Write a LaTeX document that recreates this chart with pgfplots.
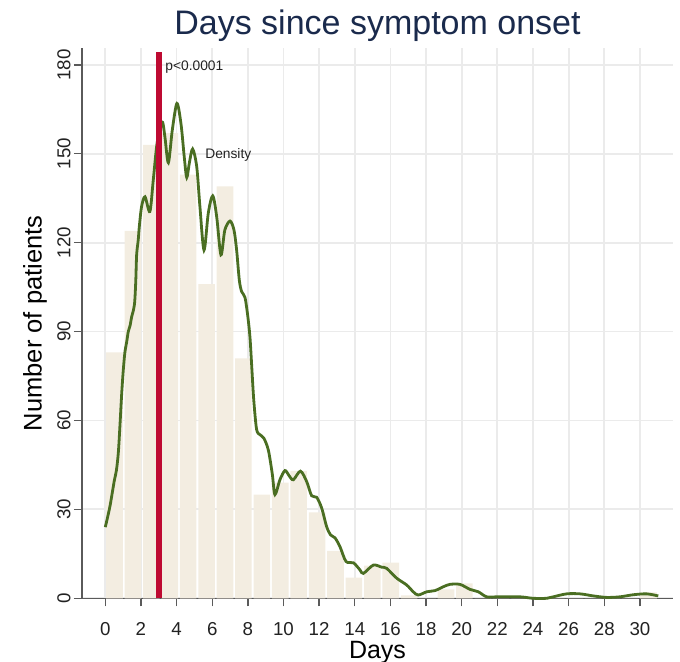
\documentclass[border=0pt]{standalone}
\usepackage{pgfplots}
\pgfplotsset{compat=1.18}
\usepackage{fontspec}
\setmainfont{Liberation Sans}
\definecolor{barbeige}{HTML}{F3EDE1}
\definecolor{densgreen}{HTML}{4A6E22}
\definecolor{redline}{HTML}{BE0A32}
\definecolor{titlenavy}{HTML}{1A2A4C}
\definecolor{axisgray}{HTML}{5A5A5A}
\definecolor{gridgray}{HTML}{EBEBEB}
\definecolor{txt}{HTML}{222222}
\begin{document}
\begin{tikzpicture}
\useasboundingbox (0,0) rectangle (680bp,662bp);
\begin{axis}[
  at={(82bp,63.7bp)}, anchor=south west,
  scale only axis, width=591bp, height=550bp,
  xmin=-1.307, xmax=31.857, ymin=0, ymax=185.6,
  axis lines=left,
  axis line style={-, draw=axisgray, line width=1.5bp},
  xtick={0,2,...,30}, ytick={0,30,...,180},
  tick align=outside, major tick length=8bp,
  tick style={draw=axisgray, line width=1.3bp},
  grid=major, grid style={draw=gridgray, line width=1.8bp},
  /pgf/number format/assume math mode=true,
  ticklabel style={font=\fontsize{18.7bp}{22bp}\selectfont, text=txt},
  xticklabel style={anchor=base, inner sep=0pt, yshift=-29.7bp},
  yticklabel style={rotate=90, anchor=base, inner sep=0pt, yshift=3.5bp},
  title={Days since symptom onset},
  title style={at={(axis description cs:0.5,1.0148)}, anchor=base, inner sep=0pt,
    font=\fontsize{34bp}{40bp}\selectfont, text=titlenavy},
  xlabel={Days},
  xlabel style={at={(axis description cs:0.5,-0.109)}, anchor=base, inner sep=0pt,
    font=\fontsize{25bp}{30bp}\selectfont, text=black},
  ylabel={Number of patients},
  ylabel style={at={(axis description cs:-0.0685,0.5)}, anchor=base, inner sep=0pt,
    font=\fontsize{25.5bp}{30bp}\selectfont, text=black},
  clip=false,
]
% histogram (bin width 31/30)
\addplot[ybar, bar width=0.93, fill=barbeige, draw=none] coordinates {
(0.5167,83) (1.55,124) (2.5833,153) (3.6167,157) (4.65,143) (5.6833,106)
(6.7167,139) (7.75,81) (8.7833,35) (9.8167,39) (10.85,43) (11.8833,29)
(12.9167,16) (13.95,7) (14.9833,11) (16.0167,12) (17.05,1) (18.0833,0)
(19.1167,3) (20.15,5) (21.1833,0) (22.2167,0) (23.25,0) (24.2833,0)
(25.3167,0) (26.35,0) (27.3833,0) (28.4167,0) (29.45,0) (30.4833,2)
};
% density
\addplot[densgreen, line width=2.8bp, smooth, tension=0.5, no marks] coordinates {
(0,24) (0.26,31) (0.5,39.5) (0.62,43) (0.73,49) (0.82,58) (0.92,69) (1.01,77)
(1.1,83) (1.2,86.5) (1.29,90) (1.39,92) (1.48,95) (1.57,97) (1.65,100) (1.71,107)
(1.76,116) (1.85,121) (1.91,125.5) (2.04,132.3) (2.23,135.5) (2.5,130.5)
(2.69,141) (2.88,152.4) (3.07,159) (3.22,160.6) (3.35,155.5) (3.54,147)
(3.76,158) (4.02,167) (4.25,160) (4.43,149) (4.57,142) (4.72,147) (4.9,151.6)
(5.13,145.7) (5.31,132.2) (5.54,117.5) (5.78,130) (6.03,135.8) (6.25,128.8)
(6.49,115.9) (6.71,124.3) (7.0,127.3) (7.22,124.3) (7.37,117.5) (7.52,107.4)
(7.65,103.5) (7.84,101.5) (8.0,95) (8.12,88) (8.22,78) (8.33,67) (8.49,57)
(8.68,55.2) (8.9,54) (9.15,50) (9.37,42) (9.52,35) (9.8,40) (10.08,43.1)
(10.3,41.5) (10.55,40) (10.95,42.9) (11.3,39.4) (11.58,34.6) (11.86,34.1)
(12.14,30.5) (12.42,24.2) (12.64,21.4) (12.89,20.4) (13.17,17.4) (13.51,12.4)
(13.92,12) (14.29,9.6) (14.48,8.4) (15.04,11.2) (15.51,10.5) (15.79,10.1)
(16.35,6.8) (16.91,4.5) (17.28,2.2) (17.56,1.1) (18.04,2.2) (18.5,2.6)
(18.97,3.9) (19.34,4.7) (19.9,4.7) (20.47,3.0) (20.93,2.2) (21.4,0.5)
(22,0.5) (23.27,0.5) (24,0) (24.77,0) (25.14,0.5) (25.89,1.5) (26.64,1.5)
(27.39,0.8) (28.14,0.3) (28.88,0.5) (29.63,1.2) (30.38,1.5) (31.03,0.8)
};
% vertical reference line
\addplot[redline, line width=5.5bp, no marks] coordinates {(3,0) (3,184.2)};
\node[anchor=west, inner sep=0pt, text=txt, font=\fontsize{13.8bp}{16bp}\selectfont]
  at (axis cs:3.36,179.4) {p<0.0001};
\node[anchor=west, inner sep=0pt, text=txt, font=\fontsize{13.8bp}{16bp}\selectfont]
  at (axis cs:5.6,149.5) {Density};
\end{axis}
\end{tikzpicture}
\end{document}
